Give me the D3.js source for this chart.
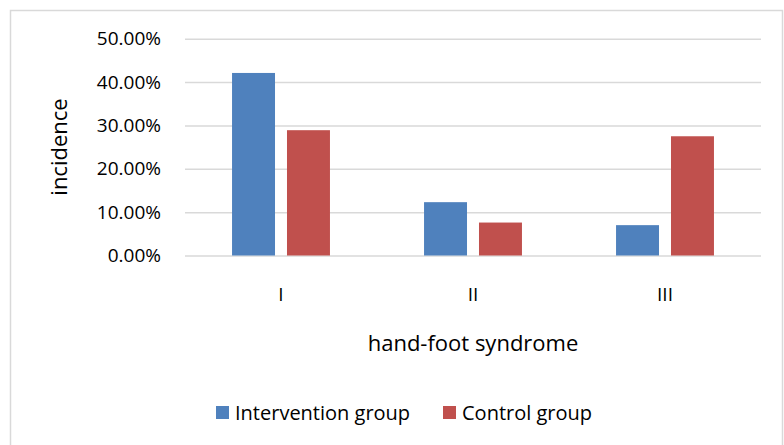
<html>

<head>
  <script src="https://d3js.org/d3.v7.min.js"></script>
  <style>
    body { margin: 0; background: #fff; }
    text { font-family: "Open Sans", "Liberation Sans", sans-serif; fill: #000; }
    .gridlines line { stroke: #d9d9d9; stroke-width: 1.5; }
    .gridlines .domain { stroke: none; }
  </style>
</head>

<body>
  <svg id="p1" width="784" height="445"></svg>
  <script>
    const categories = ["I", "II", "III"];
    const groups = ["Intervention group", "Control group"];
    const intervention = [0.421, 0.123, 0.070];
    const control = [0.289, 0.076, 0.275];
    const yTicks = [0, 0.1, 0.2, 0.3, 0.4, 0.5];
    const colors = ["#4f81bd", "#c0504d"];

    const svg = d3.select('#p1');
    const margin = { top: 38.7, left: 185, right: 761, bottom: 255.5 };

    // chart border
    svg.append("rect")
      .attr("x", 10.5).attr("y", 10.5)
      .attr("width", 772).attr("height", 460)
      .style("fill", "none").style("stroke", "#d9d9d9").style("stroke-width", 1.5);

    const x0 = d3.scaleBand().domain(categories)
      .range([margin.left, margin.right])
      .paddingInner(0.49).paddingOuter(0.245);
    const x1 = d3.scaleBand().domain(groups)
      .range([0, x0.bandwidth()])
      .paddingInner(0.218).paddingOuter(0);
    const y = d3.scaleLinear().domain([0, 0.5]).range([margin.bottom, margin.top]);
    const color = d3.scaleOrdinal().domain(groups).range(colors);

    const grid = d3.axisLeft(y).tickValues(yTicks)
      .tickSize(-(margin.right - margin.left)).tickFormat("");
    svg.append("g")
      .attr("class", "gridlines")
      .attr("transform", `translate(${margin.left},0)`)
      .call(grid);

    // y tick labels
    svg.append("g").selectAll("text").data(yTicks).join("text")
      .attr("x", 161).attr("y", d => y(d))
      .attr("dy", "0.35em")
      .attr("text-anchor", "end")
      .style("font-size", "19px")
      .text(d => d3.format(".2%")(d));

    const rows = categories.map((c, i) => ({ cat: c, values: [intervention[i], control[i]] }));
    const g = svg.append("g").selectAll("g").data(rows).join("g")
      .attr("transform", d => `translate(${x0(d.cat)},0)`);
    g.selectAll("rect").data(d => d.values.map((v, j) => ({ key: groups[j], v })))
      .join("rect")
      .attr("x", d => x1(d.key))
      .attr("y", d => y(d.v))
      .attr("width", x1.bandwidth())
      .attr("height", d => y(0) - y(d.v))
      .style("fill", d => color(d.key));

    // category labels
    svg.append("g").selectAll("text").data(categories).join("text")
      .attr("x", d => x0(d) + x0.bandwidth() / 2)
      .attr("y", 294).attr("dy", "0.35em")
      .attr("text-anchor", "middle")
      .style("font-size", "19px")
      .text(d => d);

    svg.append("text")
      .attr("x", 473).attr("y", 351)
      .attr("text-anchor", "middle")
      .style("font-size", "22px")
      .text("hand-foot syndrome");

    svg.append("text")
      .attr("transform", "translate(67,147) rotate(-90)")
      .attr("text-anchor", "middle")
      .style("font-size", "22px")
      .text("incidence");

    // legend
    const legendX = [216, 443];
    const leg = svg.append("g").selectAll("g").data(groups).join("g")
      .attr("transform", (d, i) => `translate(${legendX[i]},406)`);
    leg.append("rect").attr("width", 13).attr("height", 13).style("fill", d => color(d));
    leg.append("text").attr("x", 19).attr("y", 6.5).attr("dy", "0.35em")
      .style("font-size", "20px")
      .text(d => d);
  </script>
</body>

</html>
